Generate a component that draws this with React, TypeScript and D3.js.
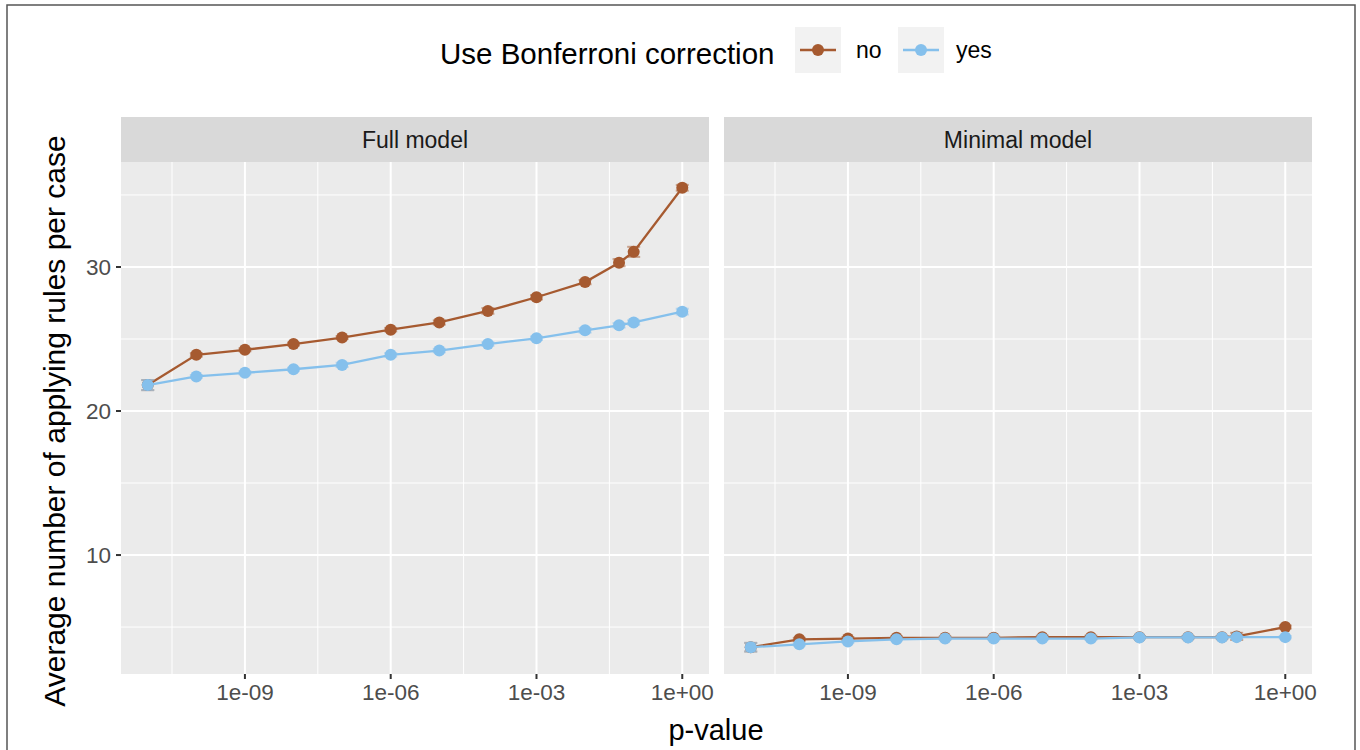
import React from "react";
import * as d3 from "d3";

// ---- data ----
const pValues = [1e-11, 1e-10, 1e-9, 1e-8, 1e-7, 1e-6, 1e-5, 1e-4, 1e-3, 1e-2, 0.05, 0.1, 1];
const panels = ["Full model", "Minimal model"];
const seriesNames = ["no", "yes"];

const fullNo = [21.8, 23.9, 24.25, 24.65, 25.1, 25.65, 26.15, 26.95, 27.9, 28.95, 30.3, 31.05, 35.5];
const fullYes = [21.8, 22.4, 22.65, 22.9, 23.2, 23.9, 24.2, 24.65, 25.05, 25.6, 25.95, 26.15, 26.9];
const minNo = [3.6, 4.15, 4.2, 4.25, 4.25, 4.25, 4.3, 4.3, 4.3, 4.3, 4.3, 4.35, 5.0];
const minYes = [3.6, 3.8, 4.0, 4.15, 4.2, 4.2, 4.2, 4.2, 4.28, 4.28, 4.28, 4.3, 4.3];

const fullNoErr = [0.35, 0.12, 0.1, 0.1, 0.1, 0.12, 0.15, 0.2, 0.15, 0.15, 0.25, 0.35, 0.2];
const fullYesErr = [0.35, 0.1, 0.1, 0.1, 0.15, 0.12, 0.12, 0.12, 0.12, 0.15, 0.15, 0.15, 0.2];
const minNoErr = [0.3, 0.1, 0.1, 0.1, 0.08, 0.08, 0.1, 0.1, 0.08, 0.08, 0.08, 0.25, 0.1];
const minYesErr = [0.3, 0.08, 0.08, 0.08, 0.08, 0.08, 0.08, 0.08, 0.08, 0.08, 0.08, 0.1, 0.08];

const yTicks = [10, 20, 30];
const yMinor = [5, 15, 25, 35];
const xTicks = [1e-9, 1e-6, 1e-3, 1];
const xTickLabels = ["1e-09", "1e-06", "1e-03", "1e+00"];
const xMinorExp = [-10.5, -7.5, -4.5, -1.5];

const colors = ["#A65A30", "#85C0EC"];

const panelData = [
  { name: panels[0], series: [fullNo, fullYes], errs: [fullNoErr, fullYesErr] },
  { name: panels[1], series: [minNo, minYes], errs: [minNoErr, minYesErr] },
];

// ---- layout ----
const W = 1360;
const H = 750;
const panelX = [121, 724];
const panelW = 588;
const panelTop = 162;
const panelBottom = 674;
const stripTop = 117;
const FONT = "'Liberation Sans', Arial, sans-serif";

export default function App() {
  const y = d3.scaleLinear().domain([1.74, 37.29]).range([panelBottom, panelTop]);

  return (
    <svg
      width={W}
      height={H}
      style={{ position: "absolute", left: 0, top: 0, display: "block" }}
      fontFamily={FONT}
    >
      <rect x={0} y={0} width={W} height={H} fill="#ffffff" />
      <rect x={7} y={5} width={1348} height={760} fill="none" stroke="#555" strokeWidth={1.5} />

      {/* legend */}
      <text x={440} y={64} fontSize={29.5} fill="#000">Use Bonferroni correction</text>
      {seriesNames.map((s, i) => {
        const bx = i === 0 ? 795 : 898;
        const tx = i === 0 ? 856 : 956;
        return (
          <g key={s}>
            <rect x={bx} y={27} width={46} height={46} fill="#F2F2F2" />
            <line x1={bx + 5} x2={bx + 41} y1={50} y2={50} stroke={colors[i]} strokeWidth={2.3} />
            <circle cx={bx + 23} cy={50} r={6} fill={colors[i]} />
            <text x={tx} y={58} fontSize={23} fill="#000">{s}</text>
          </g>
        );
      })}

      {panelData.map((p, pi) => {
        const x0 = panelX[pi];
        const x = d3
          .scaleLog()
          .domain([Math.pow(10, -11.55), Math.pow(10, 0.55)])
          .range([x0, x0 + panelW]);
        const line = d3
          .line<number>()
          .x((_, i) => x(pValues[i]))
          .y((v) => y(v));
        return (
          <g key={p.name}>
            {/* strip */}
            <rect x={x0} y={stripTop} width={panelW} height={panelTop - stripTop} fill="#D9D9D9" />
            <text
              x={x0 + panelW / 2}
              y={148}
              fontSize={23}
              textAnchor="middle"
              fill="#1A1A1A"
            >
              {p.name}
            </text>
            {/* panel */}
            <rect x={x0} y={panelTop} width={panelW} height={panelBottom - panelTop} fill="#EBEBEB" />
            {yMinor.map((v) => (
              <line key={"ym" + v} x1={x0} x2={x0 + panelW} y1={y(v)} y2={y(v)} stroke="#fff" strokeWidth={1} />
            ))}
            {xMinorExp.map((e) => (
              <line key={"xm" + e} x1={x(Math.pow(10, e))} x2={x(Math.pow(10, e))} y1={panelTop} y2={panelBottom} stroke="#fff" strokeWidth={1} />
            ))}
            {yTicks.map((v) => (
              <line key={"y" + v} x1={x0} x2={x0 + panelW} y1={y(v)} y2={y(v)} stroke="#fff" strokeWidth={2} />
            ))}
            {xTicks.map((t) => (
              <line key={"x" + t} x1={x(t)} x2={x(t)} y1={panelTop} y2={panelBottom} stroke="#fff" strokeWidth={2} />
            ))}

            {/* x axis ticks */}
            {xTicks.map((t, i) => (
              <g key={"xt" + t}>
                <line x1={x(t)} x2={x(t)} y1={panelBottom} y2={panelBottom + 5} stroke="#333" strokeWidth={2} />
                <text x={x(t)} y={700} fontSize={22.5} textAnchor="middle" fill="#4D4D4D">
                  {xTickLabels[i]}
                </text>
              </g>
            ))}

            {/* series */}
            {p.series.map((vals, si) => (
              <g key={"s" + si}>
                {vals.map((v, i) => (
                  <g key={"e" + i} stroke={colors[si]} strokeOpacity={0.5} strokeWidth={2}>
                    <line x1={x(pValues[i])} x2={x(pValues[i])} y1={y(v - p.errs[si][i])} y2={y(v + p.errs[si][i])} />
                    <line x1={x(pValues[i]) - 6.5} x2={x(pValues[i]) + 6.5} y1={y(v - p.errs[si][i])} y2={y(v - p.errs[si][i])} />
                    <line x1={x(pValues[i]) - 6.5} x2={x(pValues[i]) + 6.5} y1={y(v + p.errs[si][i])} y2={y(v + p.errs[si][i])} />
                  </g>
                ))}
                <path d={line(vals) || ""} fill="none" stroke={colors[si]} strokeWidth={2.3} />
                {vals.map((v, i) => (
                  <circle key={"c" + i} cx={x(pValues[i])} cy={y(v)} r={6} fill={colors[si]} />
                ))}
              </g>
            ))}
          </g>
        );
      })}

      {/* y axis */}
      {yTicks.map((v) => (
        <g key={"ya" + v}>
          <line x1={116} x2={121} y1={y(v)} y2={y(v)} stroke="#333" strokeWidth={2} />
          <text x={111} y={y(v)} dy="0.36em" fontSize={22.5} textAnchor="end" fill="#4D4D4D">
            {v}
          </text>
        </g>
      ))}

      <text
        transform={`translate(65,${(panelTop + panelBottom) / 2 + 3}) rotate(-90)`}
        fontSize={30}
        textAnchor="middle"
        fill="#000"
      >
        Average number of applying rules per case
      </text>
      <text x={716} y={740} fontSize={29} textAnchor="middle" fill="#000">
        p-value
      </text>
    </svg>
  );
}
